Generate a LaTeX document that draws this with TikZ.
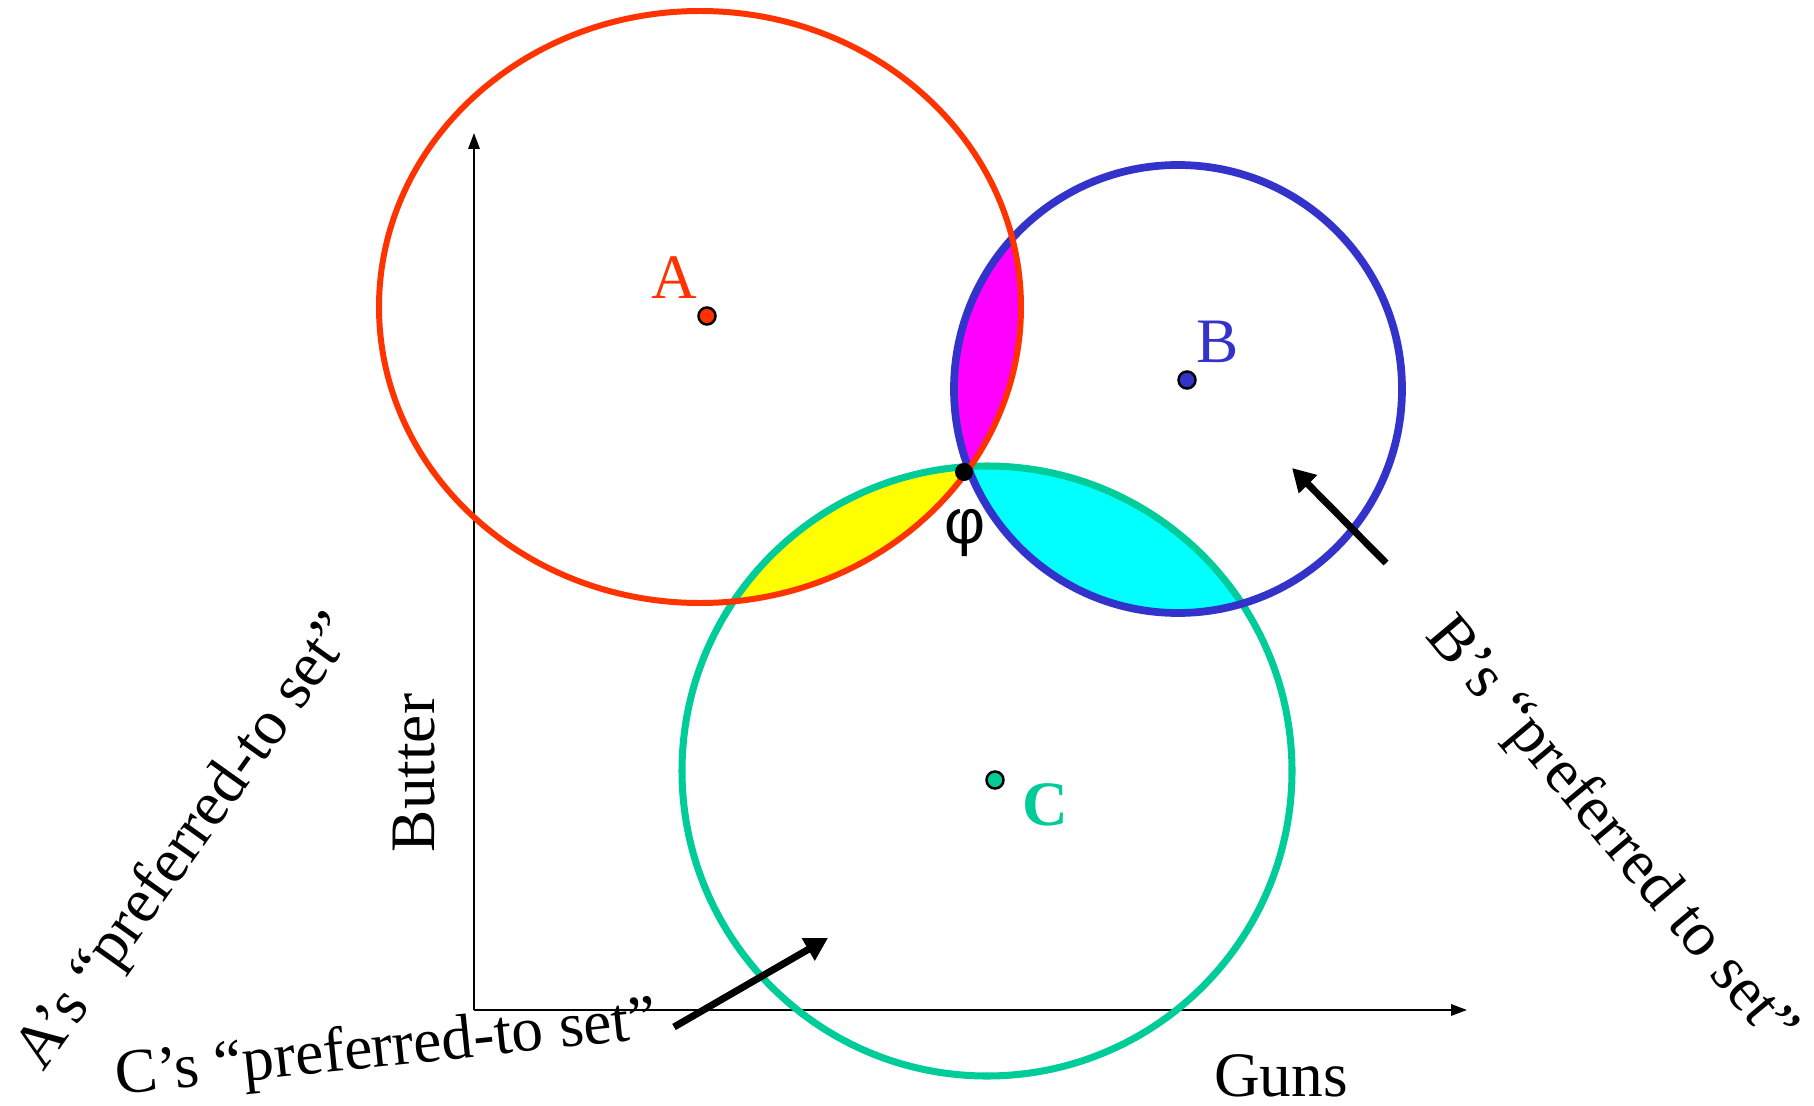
\documentclass[tikz,border=0pt]{standalone}
\usepackage{fontspec}
\setmainfont{Liberation Serif}
\newfontfamily\phifont{Liberation Sans}
\usetikzlibrary{arrows.meta}
\definecolor{cRed}{HTML}{FF3300}
\definecolor{cBlue}{HTML}{3333CC}
\definecolor{cGreen}{HTML}{00CC99}
\definecolor{cMag}{HTML}{FF00FF}
\definecolor{cYel}{HTML}{FFFF00}
\definecolor{cCyan}{HTML}{00FFFF}
\tikzset{
  pset/.style={draw=#1,line width=2pt},
  pset/.default=black,
  ideal/.style={circle,draw=black,fill=#1,line width=0.7pt,inner sep=0pt,minimum size=0.17cm},
  axis/.style={-{Triangle[length=4.5pt,width=3.2pt]},line width=0.6pt},
  bigarr/.style={-{Triangle[length=6.5pt,width=7pt]},line width=2pt},
  lbl/.style={font=\fontsize{18}{22}\selectfont,inner sep=0pt},
}

\begin{document}
\begin{tikzpicture}[x=0.01cm,y=-0.01cm]
  \useasboundingbox (0,0) rectangle (1814,1106);
  \coordinate (cA) at (700,307);
  \coordinate (cB) at (1178,389);
  \coordinate (cC) at (987,771);
  % pairwise overlaps
  \begin{scope}
    \clip (cA) ellipse [x radius=321,y radius=296];
    \fill[cMag] (cB) circle [radius=224];
    \fill[cYel] (cC) circle [radius=305];
  \end{scope}
  \begin{scope}
    \clip (cB) circle [radius=224];
    \fill[cCyan] (cC) circle [radius=305];
  \end{scope}
  % axes
  \coordinate (O) at (474,1010);
  \coordinate (ytop) at (474,133);
  \coordinate (xend) at (1467,1010);
  \draw[axis] (O) -- (ytop);
  \draw[axis] (O) -- (xend);
  \draw[pset=cGreen] (cC) circle [radius=305];
  \draw[pset=cBlue,line width=2.2pt] (cB) circle [radius=224];
  \draw[pset=cRed,line width=1.7pt] (cA) ellipse [x radius=321,y radius=296];
  % ideal points
  \node[ideal=cRed] (a) at (707,316) {};
  \node[ideal=cBlue] (b) at (1187,380) {};
  \node[ideal=cGreen] (c) at (995,780) {};
  \node[circle,fill=black,inner sep=0pt,minimum size=0.18cm] (phi) at (964,472) {};
  \node[lbl,text=cRed] (la) at (674,278) {A};
  \node[lbl,text=cBlue] (lb) at (1218,342) {B};
  \node[lbl,text=cGreen,font=\fontsize{18}{22}\selectfont\bfseries] (lc) at (1045,805) {C};
  \node[lbl,font=\fontsize{18}{22}\selectfont\phifont] (lphi) at (965,533) {φ};
  \node[lbl,rotate=90] (butter) at (414,773) {Butter};
  \node[lbl] (guns) at (1281,1076) {Guns};
  \node[lbl,rotate=54.5] (prefA) at (188,843) {A’s “preferred-to set”};
  \node[lbl,rotate=-50] (prefB) at (1610,833) {B’s “preferred to set”};
  \node[lbl,rotate=6,anchor=base] (prefC) at (388,1066) {C’s “preferred-to set”};
  \coordinate (tB) at (1386,563);
  \coordinate (hB) at (1292,468);
  \coordinate (tC) at (674,1027);
  \coordinate (hC) at (828,938);
  \draw[bigarr] (tB) -- (hB);
  \draw[bigarr] (tC) -- (hC);
\end{tikzpicture}
\end{document}
